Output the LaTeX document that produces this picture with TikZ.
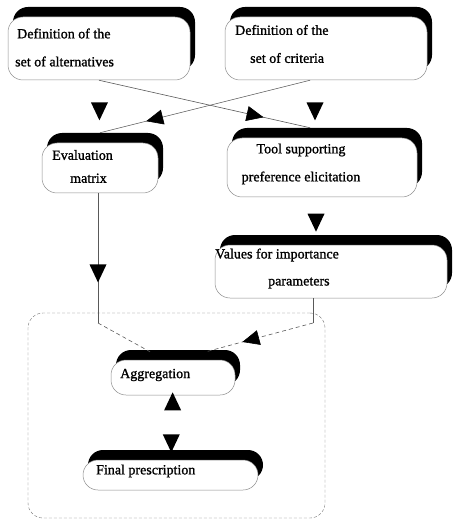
\documentclass[tikz,border=0pt]{standalone}
\usepackage{fontspec}
\setmainfont{Liberation Serif}
\newfontfamily\boxfont[BoldFont={Liberation Serif},BoldFeatures={FakeBold=1.2}]{Liberation Serif}
\usetikzlibrary{arrows.meta,shapes.geometric,shadows,decorations.markings}

\begin{document}
\begin{tikzpicture}[x=1pt,y=-1pt,
  stage/.style={draw=black!45,line width=0.5pt,fill=white,rounded corners=15pt,inner sep=0pt,
    drop shadow={shadow xshift=5pt,shadow yshift=10pt,opacity=1,fill=black}},
  txt/.style={inner sep=0pt,font=\fontsize{14}{28}\boxfont\bfseries,align=left},
  link/.style={black!65,line width=0.6pt},
  tri/.style={isosceles triangle,isosceles triangle stretches,fill=black,inner sep=0pt,
    minimum width=17pt,minimum height=18pt},
  tridown/.style={tri,shape border rotate=-90},
  triup/.style={tri,shape border rotate=90},
  midarrow/.style={postaction={decorate},decoration={markings,
    mark=at position #1 with {\arrow[black]{Triangle[length=17pt,width=15pt]}}}}]
  \useasboundingbox (0,0) rectangle (452,521);

  \node[draw=black!55,dash pattern=on 3pt off 2pt,rounded corners=15pt,inner sep=0pt,
    minimum width=297pt,minimum height=205pt] (grp) at (176.5,415.5) {};

  \node[stage,minimum width=182pt,minimum height=63pt] (defalt) at (99,48.5) {};
  \node[stage,minimum width=202pt,minimum height=63pt] (defcrit) at (326,48.5) {};
  \node[stage,minimum width=116pt,minimum height=50pt] (evalmat) at (100,168) {};
  \node[stage,minimum width=190pt,minimum height=59pt] (toolpref) at (322,167.5) {};
  \node[stage,minimum width=232pt,minimum height=53pt] (valimp) at (331,271.5) {};
  \node[stage,minimum width=124pt,minimum height=35pt] (aggreg) at (173,377.5) {};
  \node[stage,minimum width=175pt,minimum height=30pt] (finpres) at (170.5,475) {};

  \node[txt,anchor=west] (defalt-t) at (15,47.5) {\hspace*{2pt}Definition of the\\set of alternatives};
  \node[txt,anchor=west] (defcrit-t) at (235,44) {Definition of the\\\hspace*{15pt}set of criteria};
  \node[txt,anchor=west] (evalmat-t) at (52,166.5) {Evaluation\\[-5pt]\hspace*{18pt}matrix};
  \node[txt,align=center] (toolpref-t) at (301,164) {Tool supporting\\preference elicitation};
  \node[txt,anchor=west] (valimp-t) at (215,268.5) {Values for importance\\[-1pt]\hspace*{53pt}parameters};
  \node[txt,anchor=west] (aggreg-t) at (120,375) {Aggregation};
  \node[txt,anchor=west] (finpres-t) at (96,471) {Final prescription};

  \coordinate (bendC) at (98,323);
  \coordinate (bendE) at (313,323);

  \path (defalt.south) -- node[tridown,pos=0.44] (arrAC) {} (evalmat.north);
  \path ([xshift=-11pt]defcrit.south) -- node[tridown,pos=0.48] (arrBD) {} ([xshift=-7pt]toolpref.north);
  \path ([xshift=-6pt]toolpref.south) -- node[tridown,pos=0.46] (arrDE) {} ([xshift=-15pt]valimp.north);
  \draw[link,midarrow=0.78] (defalt.south) -- ([xshift=-12pt,yshift=10pt]toolpref.north);
  \draw[link,midarrow=0.78] ([xshift=-16pt]defcrit.south) -- ([yshift=10pt]evalmat.north);
  \draw[link] ([xshift=-2pt]evalmat.south) -- node[tridown,pos=0.59] (arrCA) {} (bendC);
  \draw[link,dash pattern=on 4pt off 3pt] (bendC) -- ([xshift=-23pt,yshift=8pt]aggreg.north);
  \draw[link] ([xshift=-18pt]valimp.south) -- (bendE);
  \draw[link,dash pattern=on 4pt off 3pt,midarrow=0.66] (bendE) -- ([xshift=33pt,yshift=8pt]aggreg.north);
  \path (aggreg.south) -- node[triup,pos=0.15] (arrup) {} node[tridown,pos=0.69] (arrdn) {} (finpres.north);
\end{tikzpicture}
\end{document}
